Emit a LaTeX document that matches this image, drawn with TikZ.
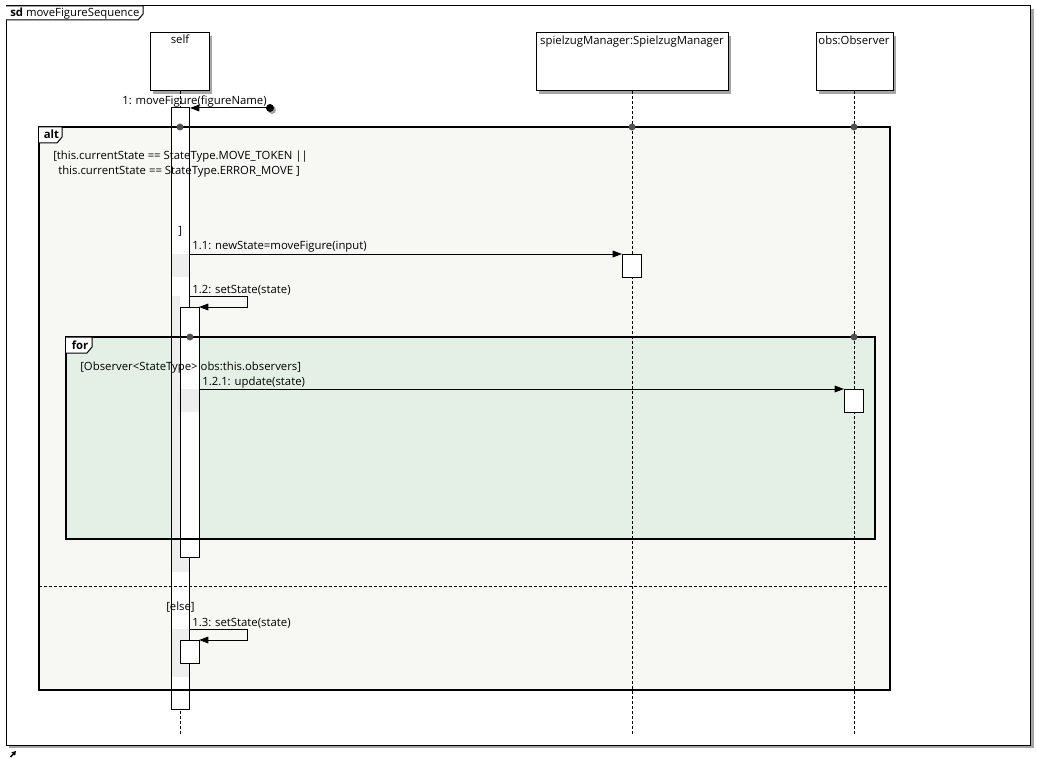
\documentclass[tikz,border=0pt]{standalone}
\usepackage{fontspec}
\setmainfont{Open Sans}
\usetikzlibrary{arrows.meta}
\definecolor{altfill}{RGB}{247,248,243}
\definecolor{forfill}{RGB}{228,239,230}
\definecolor{shadowgray}{RGB}{165,165,165}
\definecolor{bandgray}{RGB}{238,238,238}
\definecolor{dotgray}{RGB}{80,80,80}
\begin{document}
\begin{tikzpicture}[x=0.75pt,y=-0.75pt,
  txt/.style={inner sep=0pt, anchor=base west, font=\fontsize{8.5}{10}\selectfont},
  ctxt/.style={txt, anchor=base},
  thin/.style={line width=0.75pt},
  frameline/.style={line width=1.6pt},
  lifeline/.style={line width=0.75pt, dash pattern=on 2.25pt off 1.5pt},
  headbox/.style={draw, thin, fill=white},
  actbox/.style={draw, thin, fill=white},
  msg/.style={thin, -{Triangle[length=7pt,width=5pt]}},
  fdot/.style={fill=dotgray}
]
\useasboundingbox (0,0) rectangle (1037,759);
% outer frame
\fill[shadowgray] (9,9) rectangle (1034,748);
\draw[thin, fill=white] (6,6) rectangle (1030,745);
\draw[thin, fill=white] (6,6) -- (143,6) -- (143,14) -- (138,20) -- (6,20);
\node[txt] (sdlabel) at (10,17) {\textbf{sd} moveFigureSequence};
% corner icon
\draw[line width=1.1pt, -{Triangle[length=3pt,width=3.5pt]}] (10.5,757) -- (16,751);

% lifeline heads
\fill[shadowgray] (153,36) rectangle (212,94);
\draw[headbox] (150,33) rectangle (209,91);
\node[ctxt] (selfname) at (180,44) {self};
\fill[shadowgray] (539,36) rectangle (731,94);
\draw[headbox] (536,33) rectangle (728,91);
\node[ctxt] (spname) at (632,45) {spielzugManager:SpielzugManager};
\fill[shadowgray] (819,36) rectangle (896,94);
\draw[headbox] (816,33) rectangle (893,91);
\node[ctxt] (obsname) at (854,45) {obs:Observer};

% frame fills
\fill[altfill] (39,127) rectangle (890,690);
\fill[forfill] (66,337) rectangle (875,539);

% lifelines
\draw[lifeline] (180,91) -- (180,735);
\draw[lifeline] (632,91) -- (632,735);
\draw[lifeline] (854,91) -- (854,735);

% self activation
\draw[actbox] (171,108) rectangle (189,709);
\fill[bandgray] (171.5,254) rectangle (188.5,277);
\fill[bandgray] (171.5,296) rectangle (180,557);
\fill[bandgray] (171.5,557) rectangle (188.5,572);
\fill[bandgray] (171.5,629) rectangle (188.5,677);
\draw[thin] (171,108) rectangle (189,709);
% nested activations
\draw[actbox] (180,307) rectangle (199,557);
\fill[bandgray] (180.5,389) rectangle (198.5,412);
\draw[thin] (180,307) rectangle (199,557);
\draw[actbox] (180,640) rectangle (199,663);
% other activations
\draw[actbox] (622,254) rectangle (641,277);
\draw[actbox] (844,389) rectangle (863,412);

% frame borders (over activations)
\draw[frameline] (39,127) rectangle (890,690);
\draw[lifeline] (39,586) -- (890,586);
\draw[frameline] (66,337) rectangle (875,539);

% frame tabs
\draw[thin, fill=white] (39,127) -- (62,127) -- (62,137) -- (57,143) -- (39,143);
\node[txt] (altlabel) at (43.5,138.5) {\textbf{alt}};
\draw[thin, fill=white] (66,337) -- (92,337) -- (92,347) -- (87,353) -- (66,353);
\node[txt] (forlabel) at (71.5,349) {\textbf{for}};

% frame dots
\fill[fdot] (180,127) circle[radius=2.6pt];
\fill[fdot] (632,127) circle[radius=2.6pt];
\fill[fdot] (854,127) circle[radius=2.6pt];
\fill[fdot] (190,337) circle[radius=2.6pt];
\fill[fdot] (854,337) circle[radius=2.6pt];

% guards
\node[txt] (g1) at (53,160) {[this.currentState == StateType.MOVE\_TOKEN ||};
\node[txt] (g2) at (58,175) {this.currentState == StateType.ERROR\_MOVE ]};
\node[txt] (g3) at (178,234) {]};
\node[txt] (gelse) at (166,610) {[else]};
\node[txt] (gfor) at (80,370) {[Observer<StateType> obs:this.observers]};

% named points
\coordinate (found) at (270,108);
\coordinate (selfin) at (190,108);
\coordinate (m11s) at (189,254);
\coordinate (m11e) at (622,254);
\coordinate (m121s) at (199,389);
\coordinate (m121e) at (844,389);

% message 1 (found)
\fill[shadowgray] (272,110) circle[radius=3pt];
\fill[black] (found) circle[radius=3pt];
\draw[msg] (found) -- (selfin);
\node[txt] (l1) at (122,105) {1: moveFigure(figureName)};

% message 1.1
\draw[msg] (m11s) -- (m11e);
\node[txt] (l11) at (192,249) {1.1: newState=moveFigure(input)};

% message 1.2 (self call)
\draw[msg] (189,296) -- (247,296) -- (247,307) -- (199,307);
\node[txt] (l12) at (192,293) {1.2: setState(state)};

% message 1.2.1
\draw[msg] (m121s) -- (m121e);
\node[txt] (l121) at (202,385) {1.2.1: update(state)};

% message 1.3 (self call)
\draw[msg] (189,629) -- (247,629) -- (247,640) -- (199,640);
\node[txt] (l13) at (192,626) {1.3: setState(state)};
\end{tikzpicture}
\end{document}
